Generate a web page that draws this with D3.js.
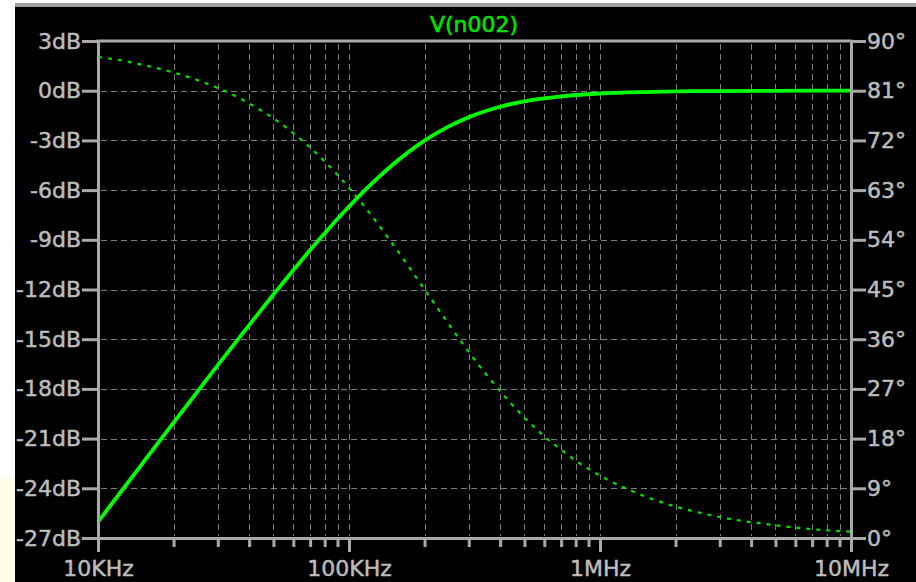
<!DOCTYPE html>
<html>
<head>
<meta charset="utf-8">
<script src="https://cdn.jsdelivr.net/npm/d3@7"></script>
<style>
  html, body { margin: 0; padding: 0; background: #fff; overflow: hidden; }
  svg { display: block; }
  text { font-family: "DejaVu Sans", sans-serif; }
</style>
</head>
<body>
<svg id="chart" width="916" height="582"></svg>
<script>
// AC sweep of node n002: frequency (Hz), magnitude (dB) and phase (degrees)
const freqs = [1e4, 1.2e4, 1.5e4, 2e4, 2.5e4, 3e4, 4e4, 5e4, 6e4, 7e4, 8e4,
  1e5, 1.2e5, 1.5e5, 2e5, 2.5e5, 3e5, 4e5, 5e5, 6e5, 7e5, 8e5,
  1e6, 1.5e6, 2e6, 3e6, 5e6, 7e6, 1e7];
const magDb = [-26.03, -24.45, -22.52, -20.04, -18.13, -16.57, -14.15, -12.30, -10.83, -9.62, -8.60,
  -6.99, -5.77, -4.44, -3.01, -2.15, -1.60, -0.97, -0.64, -0.46, -0.34, -0.26,
  -0.17, -0.08, -0.04, -0.02, -0.01, 0.0, 0.0];
const phaseDeg = [87.1, 86.6, 85.7, 84.3, 82.9, 81.5, 78.7, 76.0, 73.3, 70.7, 68.2,
  63.4, 59.0, 53.1, 45.0, 38.7, 33.7, 26.6, 21.8, 18.4, 16.0, 14.0,
  11.3, 7.6, 5.7, 3.8, 2.3, 1.6, 1.15];

// Axis ticks and labels
const dbTicks = [3, 0, -3, -6, -9, -12, -15, -18, -21, -24, -27];
const degTicks = [90, 81, 72, 63, 54, 45, 36, 27, 18, 9, 0];
const decadeFreqs = [1e4, 1e5, 1e6, 1e7];
const decadeLabels = ["10KHz", "100KHz", "1MHz", "10MHz"];
const traceName = "V(n002)";

const W = 916, H = 582;
const plot = { left: 98, right: 851, top: 41, bottom: 538 };
const axisGray = "#a9a9a9";
const textGray = "#bcbcbc";
const gridGray = "#7c7c7c";
const traceGreen = "#00ff00";

const svg = d3.select("#chart");

// Window background
svg.append("rect").attr("x", 0).attr("y", 0).attr("width", W).attr("height", H).attr("fill", "#ffffff");
svg.append("rect").attr("x", 0).attr("y", 477).attr("width", 15).attr("height", H - 477).attr("fill", "#fffde9");
svg.append("rect").attr("x", 15).attr("y", 3).attr("width", W - 15).attr("height", 4).attr("fill", "#a0a0a0");
svg.append("rect").attr("x", 15).attr("y", 7).attr("width", W - 15).attr("height", H - 7).attr("fill", "#000000");

// Scales
const x = d3.scaleLog().domain([1e4, 1e7]).range([plot.left, plot.right]);
const yDb = d3.scaleLinear().domain([-27, 3]).range([plot.bottom, plot.top]);
const yDeg = d3.scaleLinear().domain([0, 90]).range([plot.bottom, plot.top]);

// Minor/major frequency positions (2..10 within each decade)
const gridFreqs = [];
[1e4, 1e5, 1e6].forEach(d => { for (let k = 2; k <= 10; k++) gridFreqs.push(d * k); });
const innerFreqs = gridFreqs.filter(f => f < 1e7);

// Dashed grid
const grid = svg.append("g").attr("stroke", gridGray).attr("stroke-width", 1)
  .attr("stroke-dasharray", "6 4").attr("fill", "none");
grid.selectAll("line.v").data(innerFreqs).join("line").attr("class", "v")
  .attr("x1", d => Math.round(x(d)) + 0.5).attr("x2", d => Math.round(x(d)) + 0.5)
  .attr("y1", plot.top + 3).attr("y2", plot.bottom - 2);
grid.selectAll("line.h").data(dbTicks.filter(d => d !== 3 && d !== -27)).join("line").attr("class", "h")
  .attr("y1", d => Math.round(yDb(d)) + 0.5).attr("y2", d => Math.round(yDb(d)) + 0.5)
  .attr("x1", plot.left + 3).attr("x2", plot.right - 2);

// Left axis (magnitude)
const leftAxis = d3.axisLeft(yDb).tickValues(dbTicks).tickSize(16).tickSizeOuter(0)
  .tickPadding(1).tickFormat(d => d + "dB");
const gL = svg.append("g").attr("transform", `translate(${plot.left},0)`).call(leftAxis);

// Right axis (phase)
const rightAxis = d3.axisRight(yDeg).tickValues(degTicks).tickSize(15).tickSizeOuter(0)
  .tickPadding(1).tickFormat(d => d + "\u00b0");
const gR = svg.append("g").attr("transform", `translate(${plot.right},0)`).call(rightAxis);

// Bottom axis (frequency)
const bottomAxis = d3.axisBottom(x).tickValues(decadeFreqs).tickSize(14).tickSizeOuter(0)
  .tickPadding(5).tickFormat((d, i) => decadeLabels[i]);
const gB = svg.append("g").attr("transform", `translate(0,${plot.bottom})`).call(bottomAxis);

// Minor ticks under the frequency axis
const gMinor = svg.append("g").attr("transform", `translate(0,${plot.bottom})`)
  .call(d3.axisBottom(x).tickValues(innerFreqs.filter(f => !decadeFreqs.includes(f)))
    .tickSize(9).tickSizeOuter(0).tickFormat(""));

[gL, gR, gB, gMinor].forEach(g => {
  g.select(".domain").attr("stroke", axisGray).attr("stroke-width", 3);
  g.selectAll(".tick line").attr("stroke", axisGray).attr("stroke-width", 3);
  g.selectAll(".tick text").attr("fill", textGray)
    .attr("stroke", textGray).attr("stroke-width", 0.5)
    .style("font-family", "'DejaVu Sans', sans-serif").style("font-size", "22px");
});
gB.selectAll(".tick text").attr("dy", "0.85em");

// Top frame line
svg.append("line").attr("x1", plot.left - 1.5).attr("x2", plot.right + 1.5)
  .attr("y1", plot.top).attr("y2", plot.top)
  .attr("stroke", axisGray).attr("stroke-width", 3);

// Traces, clipped to the plotting area
svg.append("clipPath").attr("id", "plotClip").append("rect")
  .attr("x", plot.left + 1).attr("y", plot.top + 1)
  .attr("width", plot.right - plot.left - 2).attr("height", plot.bottom - plot.top - 2);

const traces = svg.append("g").attr("clip-path", "url(#plotClip)");

const phaseLine = d3.line().x((d, i) => x(freqs[i])).y(d => yDeg(d)).curve(d3.curveMonotoneX);
traces.append("path").datum(phaseDeg).attr("d", phaseLine)
  .attr("fill", "none").attr("stroke", "#00e000").attr("stroke-width", 2.2)
  .attr("stroke-dasharray", "4 6");

const magLine = d3.line().x((d, i) => x(freqs[i])).y(d => yDb(d)).curve(d3.curveMonotoneX);
traces.append("path").datum(magDb).attr("d", magLine)
  .attr("fill", "none").attr("stroke", traceGreen).attr("stroke-width", 3.8)
  .attr("stroke-linejoin", "round").attr("stroke-linecap", "round");

// Trace name
svg.append("text").attr("x", 474).attr("y", 32).attr("text-anchor", "middle")
  .attr("fill", "#00e600").attr("stroke", "#00e600").attr("stroke-width", 0.6)
  .style("font-size", "22px").text(traceName);
</script>
</body>
</html>
